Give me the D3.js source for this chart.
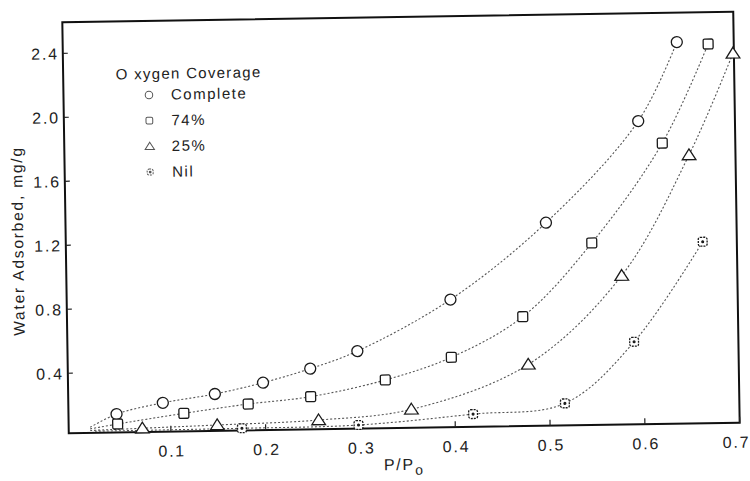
<!DOCTYPE html>
<html>
<head>
<meta charset="utf-8">
<script src="https://cdn.jsdelivr.net/npm/d3@7"></script>
<style>
  html, body { margin: 0; padding: 0; background: #fff; }
  svg text { font-family: "Liberation Sans", Arial, sans-serif; fill: #222; }
</style>
</head>
<body>
<div id="vis"></div>
<script>
'use strict';

// Tick values and labels
const xTicks = [0.1, 0.2, 0.3, 0.4, 0.5, 0.6, 0.7];
const xTickLabels = ['0.1', '0.2', '0.3', '0.4', '0.5', '0.6', '0.7'];
const yTicks = [0.4, 0.8, 1.2, 1.6, 2.0, 2.4];
const yTickLabels = ['0.4', '0.8', '1.2', '1.6', '2.0', '2.4'];

// Series: P/P0 and water adsorbed, mg/g
const seriesNames = ['Complete', '74%', '25%', 'Nil'];

const completeX = [0.043, 0.092, 0.147, 0.198, 0.248, 0.298, 0.397, 0.499, 0.598, 0.640];
const completeY = [0.140, 0.206, 0.256, 0.322, 0.405, 0.510, 0.823, 1.294, 1.920, 2.410];

const pct74X = [0.044, 0.114, 0.182, 0.248, 0.327, 0.397, 0.473, 0.547, 0.623, 0.673];
const pct74Y = [0.078, 0.138, 0.190, 0.230, 0.327, 0.462, 0.709, 1.163, 1.780, 2.395];

const pct25X = [0.070, 0.149, 0.256, 0.354, 0.478, 0.578, 0.651, 0.699];
const pct25Y = [0.049, 0.062, 0.083, 0.141, 0.410, 0.956, 1.703, 2.334];

const nilX = [0.175, 0.298, 0.419, 0.516, 0.590, 0.664];
const nilY = [0.039, 0.048, 0.105, 0.163, 0.541, 1.160];

// where each fitted curve starts near the origin
const curveStartX = [0.015, 0.015, 0.015, 0.02];
const curveStartY = [0.060, 0.050, 0.040, 0.035];

const width = 750;
const height = 481;

// plot frame (unrotated)
const frame = { left: 65.5, right: 736.5, top: 17, bottom: 428 };

const x = d3.scaleLinear().domain([-0.0077, 0.7]).range([frame.left, frame.right]);
const y = d3.scaleLinear().domain([0.025, 2.594]).range([frame.bottom, frame.top]);

const svg = d3.select('#vis')
  .append('svg')
  .attr('width', width)
  .attr('height', height);

// the scanned figure is slightly tilted
const g = svg.append('g')
  .attr('transform', 'rotate(-0.9, 401, 222.5)');

// frame
g.append('rect')
  .attr('x', frame.left)
  .attr('y', frame.top)
  .attr('width', frame.right - frame.left)
  .attr('height', frame.bottom - frame.top)
  .attr('fill', 'none')
  .attr('stroke', '#111')
  .attr('stroke-width', 2);

// x ticks (inward) and labels
g.selectAll('.xtick')
  .data(xTicks)
  .enter().append('line')
  .attr('x1', d => x(d)).attr('x2', d => x(d))
  .attr('y1', frame.bottom).attr('y2', frame.bottom - 6)
  .attr('stroke', '#222').attr('stroke-width', 1.2);

g.selectAll('.xlabel')
  .data(xTicks)
  .enter().append('text')
  .attr('x', d => Math.min(x(d) + 1, 733))
  .attr('y', frame.bottom + 25)
  .attr('text-anchor', 'middle')
  .style('font-size', '16px')
  .style('letter-spacing', '1.8px')
  .text((d, i) => xTickLabels[i]);

// y ticks and labels
g.selectAll('.ytick')
  .data(yTicks)
  .enter().append('line')
  .attr('x1', frame.left).attr('x2', frame.left + 5)
  .attr('y1', d => y(d)).attr('y2', d => y(d))
  .attr('stroke', '#222').attr('stroke-width', 1.2);

g.selectAll('.ylabel')
  .data(yTicks)
  .enter().append('text')
  .attr('x', frame.left - 4)
  .attr('y', d => y(d) + 6)
  .attr('text-anchor', 'end')
  .style('font-size', '16px')
  .style('letter-spacing', '1.8px')
  .text((d, i) => yTickLabels[i]);

// axis titles
g.append('text')
  .attr('transform', 'translate(23, 235) rotate(-90)')
  .attr('text-anchor', 'middle')
  .style('font-size', '15.5px')
  .style('letter-spacing', '1.8px')
  .text('Water Adsorbed,  mg/g');

const xTitle = g.append('text')
  .attr('x', 380)
  .attr('y', 470)
  .style('font-size', '16px')
  .style('letter-spacing', '1.8px');
xTitle.append('tspan').text('P/P');
xTitle.append('tspan').attr('dy', 5).style('font-size', '14px').text('o');

// data
const xs = [completeX, pct74X, pct25X, nilX];
const ys = [completeY, pct74Y, pct25Y, nilY];
const series = seriesNames.map(function (name, i) {
  return {
    name: name,
    kind: i,
    points: xs[i].map((v, j) => ({ px: v, py: ys[i][j] }))
  };
});

const line = d3.line()
  .x(d => x(d.px))
  .y(d => y(d.py))
  .curve(d3.curveCatmullRom.alpha(0.5));

g.selectAll('.curve')
  .data(series)
  .enter().append('path')
  .attr('d', (s, i) => line([{ px: curveStartX[i], py: curveStartY[i] }].concat(s.points)))
  .attr('fill', 'none')
  .attr('stroke', '#555')
  .attr('stroke-width', 1.1)
  .attr('stroke-dasharray', '2,2');

// marker drawing helper
function drawMarker(sel, kind, size) {
  const s = size;
  if (kind === 0) {
    sel.append('circle').attr('r', s * 0.5);
  } else if (kind === 1) {
    sel.append('rect')
      .attr('x', -s * 0.45).attr('y', -s * 0.45)
      .attr('width', s * 0.9).attr('height', s * 0.9)
      .attr('rx', 1.5);
  } else if (kind === 2) {
    sel.append('path')
      .attr('d', `M0,${-s * 0.55}L${s * 0.62},${s * 0.42}L${-s * 0.62},${s * 0.42}Z`);
  } else {
    sel.append('rect')
      .attr('x', -s * 0.4).attr('y', -s * 0.4)
      .attr('width', s * 0.8).attr('height', s * 0.8)
      .attr('rx', 2)
      .attr('stroke-dasharray', '2,1');
    sel.append('circle').attr('r', 0.9).attr('fill', '#222');
  }
}

series.forEach(function (s) {
  const pts = g.selectAll('.pt' + s.kind)
    .data(s.points)
    .enter().append('g')
    .attr('transform', d => `translate(${x(d.px)},${y(d.py)})`)
    .attr('fill', '#fff')
    .attr('stroke', '#1a1a1a')
    .attr('stroke-width', 1.3);
  pts.each(function () { drawMarker(d3.select(this), s.kind, 11); });
});

// legend
const legend = g.append('g').attr('transform', 'translate(118, 0)');
legend.append('text')
  .attr('x', 0).attr('y', 75)
  .style('font-size', '15px')
  .style('letter-spacing', '1.3px')
  .text('O xygen  Coverage');

seriesNames.forEach(function (name, i) {
  const row = legend.append('g').attr('transform', `translate(0, ${96 + i * 25.7})`);
  const m = row.append('g')
    .attr('transform', 'translate(33, -5)')
    .attr('fill', '#fff')
    .attr('stroke', '#555')
    .attr('stroke-width', 1);
  drawMarker(m, i, 7.5);
  row.append('text')
    .attr('x', 55).attr('y', 0)
    .style('font-size', '15px')
    .style('letter-spacing', '1.5px')
    .text(name);
});
</script>
</body>
</html>
